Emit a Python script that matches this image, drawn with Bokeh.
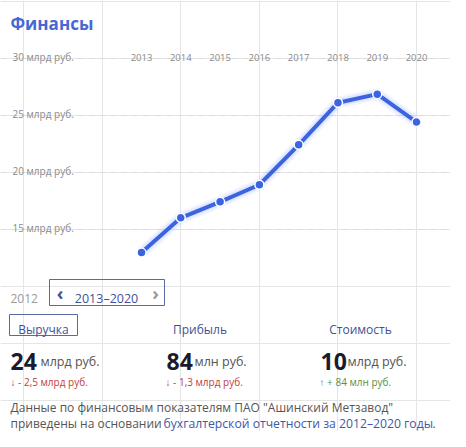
from bokeh.plotting import figure
from bokeh.models import Range1d, Grid, FixedTicker
from bokeh.core.properties import value
from bokeh.embed import file_html
from bokeh.resources import INLINE

# ---- data ----
years = [2013, 2014, 2015, 2016, 2017, 2018, 2019, 2020]
revenue = [13.0, 16.05, 17.45, 18.95, 22.45, 26.15, 26.9, 24.45]  # млрд руб.
year_labels = [str(y) for y in years]
y_ticks = [15, 20, 25, 30]
y_tick_labels = [f"{t} млрд руб." for t in y_ticks]

W, H = 450, 431
FONT = "Open Sans"

p = figure(width=W, height=H,
           x_range=Range1d(2009.411, 2020.864),
           y_range=Range1d(-2.693, 35.114),
           x_axis_location=None, y_axis_location=None,
           output_backend="svg", toolbar_location=None, min_border=0)
p.outline_line_color = None
p.background_fill_color = "white"
p.border_fill_color = "white"
# pixel ranges for layout texts
p.extra_x_ranges = {"px": Range1d(0, W)}
p.extra_y_ranges = {"py": Range1d(0, H)}

p.add_layout(Grid(dimension=1, ticker=FixedTicker(ticks=y_ticks),
                  grid_line_color="#dcdcdc", grid_line_dash="6 5", grid_line_width=1))


def Y(top_y):
    return H - top_y


def txt(x, y, s, size, color, style="normal", align="left", baseline="alphabetic", font=FONT):
    p.text(x=[x], y=[Y(y)], text=[s], x_range_name="px", y_range_name="py",
           text_font=value(font), text_font_size=f"{size}px", text_color=color,
           text_font_style=style, text_align=align, text_baseline=baseline)


def box(l, t, r, b):
    p.quad(left=[l], right=[r], top=[Y(t)], bottom=[Y(b)], x_range_name="px", y_range_name="py",
           fill_color=None, line_color="#5a6aa0", line_width=1)


# title
txt(10, 23, "Финансы", 17, "#4667d4", style="bold")

# y tick labels (above gridlines)
p.text(x=[12] * len(y_ticks), y=y_ticks, text=y_tick_labels, x_range_name="px",
       text_font=value(FONT), text_font_size="10px", text_color="#8a8a8a",
       text_align="left", text_baseline="alphabetic", y_offset=-2)

# year labels on top
p.text(x=years, y=[Y(57)] * len(years), text=year_labels, y_range_name="py",
       text_font=value(FONT), text_font_size="9.5px", text_color="#8a8a8a",
       text_align="center", text_baseline="alphabetic")

# line with glow
p.line(years, revenue, line_width=12, line_color="#7f9cff", line_alpha=0.10)
p.line(years, revenue, line_width=8, line_color="#7f9cff", line_alpha=0.15)
p.line(years, revenue, line_width=4, line_color="#3c64e0")
p.scatter(years, revenue, size=9, fill_color="#3c64e0", line_color="white", line_width=1.5)

# period selector
txt(10, 298, "2012", 12, "#9a9a9a")
box(49, 279, 164, 305)
txt(59.5, 292, "‹", 18, "#3f5196", style="bold", align="center", baseline="middle")
txt(106, 298, "2013–2020", 12.5, "#3f5196", align="center")
txt(155, 292, "›", 18, "#9a9a9a", style="bold", align="center", baseline="middle")

# tabs
box(9, 314, 77, 335)
txt(43, 329, "Выручка", 12, "#3f5196", align="center")
txt(199.5, 329, "Прибыль", 12, "#3f5196", align="center")
txt(360, 329, "Стоимость", 12, "#3f5196", align="center")

# big numbers
txt(10, 361, "24", 23, "#1b1b2f", style="bold")
txt(40, 361, "млрд руб.", 12.5, "#555555")
txt(166, 361, "84", 23, "#1b1b2f", style="bold")
txt(194, 361, "млн руб.", 12.5, "#555555")
txt(320, 361, "10", 23, "#1b1b2f", style="bold")
txt(347, 361, "млрд руб.", 12.5, "#555555")

# changes
txt(10, 381, "↓  - 2,5 млрд руб.", 10, "#c43c3c")
txt(165, 381, "↓  - 1,3 млрд руб.", 10, "#c43c3c")
txt(319, 381, "↑  + 84 млн руб.", 10, "#5b8f3e")

# footer
txt(10, 407, "Данные по финансовым показателям ПАО \"Ашинский Метзавод\"", 12, "#555555")
txt(10, 423, "приведены на основании", 12, "#555555")
txt(163, 423, "бухгалтерской отчетности за 2012–2020 годы", 12.2, "#4059a8")
txt(432, 423, ".", 12, "#555555")

open("out.html", "w").write(file_html(p, INLINE))
